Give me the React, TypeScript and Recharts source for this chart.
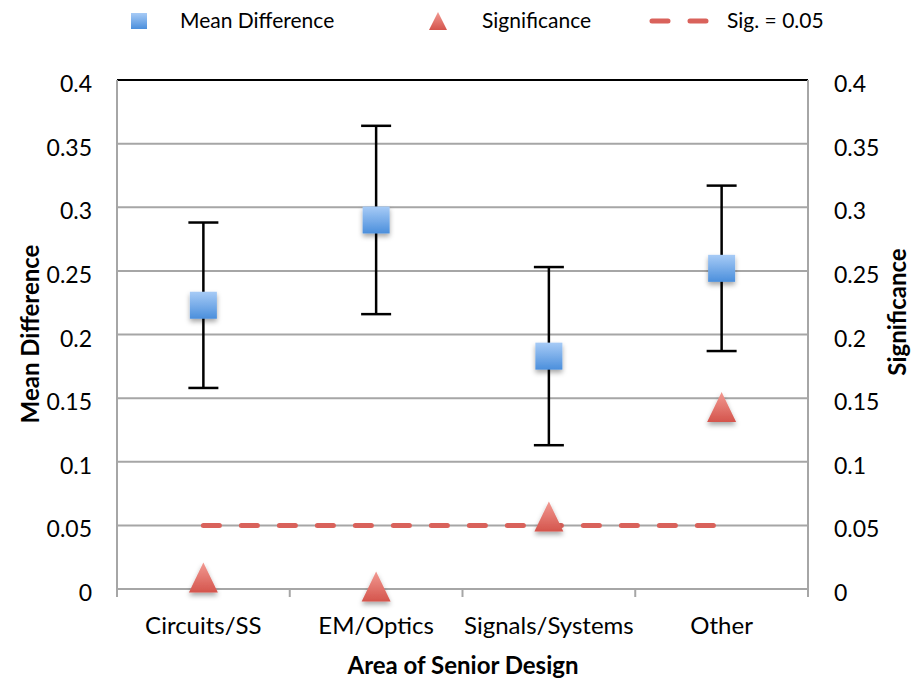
import {
  ComposedChart,
  Scatter,
  Line,
  XAxis,
  YAxis,
  CartesianGrid,
  ErrorBar,
  ReferenceLine,
} from "recharts";

const categories = ["Circuits/SS", "EM/Optics", "Signals/Systems", "Other"];
const meanDiff = [0.223, 0.29, 0.183, 0.252];
const meanErr = [0.065, 0.074, 0.07, 0.065];
const significance = [0.009, 0.002, 0.057, 0.143];
const sigLevel = [0.05, 0.05, 0.05, 0.05];
const yTicks = [0, 0.05, 0.1, 0.15, 0.2, 0.25, 0.3, 0.35, 0.4];

const data = categories.map((area, i) => ({
  area,
  mean: meanDiff[i],
  err: meanErr[i],
  sig: significance[i],
  level: sigLevel[i],
}));

const FONT = "Lato, 'Open Sans', sans-serif";
const GRID = "#a6a6a6";
const RED = "#d9625b";

const Square = (props: any) => {
  const { cx, cy } = props;
  if (cx == null || cy == null) return null;
  return (
    <rect
      x={cx - 13.5}
      y={cy - 13.5}
      width={27}
      height={27}
      fill="url(#blueGrad)"
      filter="url(#shadow)"
    />
  );
};

const Triangle = (props: any) => {
  const { cx, cy } = props;
  if (cx == null || cy == null) return null;
  return (
    <polygon
      points={`${cx},${cy - 15} ${cx + 14.5},${cy + 15} ${cx - 14.5},${cy + 15}`}
      fill="url(#redGrad)"
      filter="url(#shadow)"
    />
  );
};

const CategoryTick = (props: any) => {
  const { x, y, payload, index } = props;
  const half = payload?.offset ?? 86.4;
  return (
    <g>
      <line x1={x - half} x2={x - half} y1={y - 8} y2={y} stroke={GRID} strokeWidth={2} />
      {index === categories.length - 1 && (
        <line x1={x + half} x2={x + half} y1={y - 8} y2={y} stroke={GRID} strokeWidth={2} />
      )}
      <text x={x} y={y + 37} textAnchor="middle" fontFamily={FONT} fontSize={24} fill="#000">
        {payload.value}
      </text>
    </g>
  );
};

const ValueTick = (props: any) => {
  const { x, y, payload, anchor } = props;
  return (
    <text x={x} y={y + 12} textAnchor={anchor} fontFamily={FONT} fontSize={23} fill="#000">
      {payload.value}
    </text>
  );
};

const titleStyle: React.CSSProperties = {
  position: "absolute",
  fontFamily: FONT,
  fontWeight: 700,
  fontSize: 24,
  lineHeight: 1,
  whiteSpace: "nowrap",
  color: "#000",
};

export default function App() {
  return (
    <div style={{ position: "fixed", left: 0, top: 0, width: 912, height: 680, background: "#fff", overflow: "hidden" }}>
      <div style={{ position: "absolute", top: 7, left: 0, width: 912, height: 28, fontFamily: FONT, fontSize: 21, color: "#000" }}>
        <svg width={16} height={16} style={{ position: "absolute", left: 131, top: 6 }}>
          <defs>
            <linearGradient id="lgBlue" x1="0" y1="0" x2="0" y2="1">
              <stop offset="0%" stopColor="#a7cbf6" />
              <stop offset="100%" stopColor="#4b8fdc" />
            </linearGradient>
            <linearGradient id="lgRed" x1="0" y1="0" x2="0" y2="1">
              <stop offset="0%" stopColor="#f29a92" />
              <stop offset="100%" stopColor="#d4544c" />
            </linearGradient>
          </defs>
          <rect x={0} y={0} width={16} height={16} fill="url(#lgBlue)" />
        </svg>
        <span style={{ position: "absolute", left: 180, top: 0 }}>Mean Difference</span>
        <svg width={20} height={20} style={{ position: "absolute", left: 428, top: 4 }}>
          <polygon points="10,1 19,19 1,19" fill="url(#lgRed)" />
        </svg>
        <span style={{ position: "absolute", left: 482, top: 0 }}>Significance</span>
        <svg width={60} height={10} style={{ position: "absolute", left: 649, top: 9 }}>
          <line x1={3} x2={57} y1={5} y2={5} stroke={RED} strokeWidth={5} strokeLinecap="round" strokeDasharray="16 22" />
        </svg>
        <span style={{ position: "absolute", left: 727, top: 0 }}>Sig. = 0.05</span>
      </div>

      <div style={{ ...titleStyle, left: 30, top: 334, transform: "translate(-50%, -50%) rotate(-90deg)" }}>
        Mean Difference
      </div>
      <div style={{ ...titleStyle, left: 897, top: 312, transform: "translate(-50%, -50%) rotate(-90deg)" }}>
        Significance
      </div>
      <div style={{ ...titleStyle, left: 463, top: 665, transform: "translate(-50%, -50%)" }}>
        Area of Senior Design
      </div>

      <div style={{ position: "absolute", left: 0, top: 0 }}>
        <ComposedChart width={912} height={680} data={data} margin={{ top: 80, right: 0, bottom: 0, left: 0 }}>
          <defs>
            <linearGradient id="blueGrad" x1="0" y1="0" x2="0" y2="1">
              <stop offset="0%" stopColor="#a7cbf6" />
              <stop offset="100%" stopColor="#4b8fdc" />
            </linearGradient>
            <linearGradient id="redGrad" x1="0" y1="0" x2="0" y2="1">
              <stop offset="0%" stopColor="#f29a92" />
              <stop offset="100%" stopColor="#d4544c" />
            </linearGradient>
            <filter id="shadow" x="-50%" y="-50%" width="200%" height="200%">
              <feDropShadow dx={0} dy={3} stdDeviation={2.5} floodColor="#000" floodOpacity={0.35} />
            </filter>
          </defs>
          <CartesianGrid vertical={false} stroke={GRID} strokeWidth={2} yAxisId="left" />
          <XAxis
            dataKey="area"
            scale="band"
            height={91}
            axisLine={{ stroke: GRID, strokeWidth: 2 }}
            tickLine={false}
            tickSize={8}
            tickMargin={0}
            tick={<CategoryTick />}
            interval={0}
          />
          <YAxis
            yAxisId="left"
            width={117}
            domain={[0, 0.4]}
            ticks={yTicks}
            axisLine={{ stroke: GRID, strokeWidth: 2 }}
            tickLine={false}
            tickSize={0}
            tickMargin={25}
            tick={<ValueTick anchor="end" />}
          />
          <YAxis
            yAxisId="right"
            orientation="right"
            width={104}
            domain={[0, 0.4]}
            ticks={yTicks}
            axisLine={{ stroke: GRID, strokeWidth: 2 }}
            tickLine={false}
            tickSize={0}
            tickMargin={26}
            tick={<ValueTick anchor="start" />}
          />
          <ReferenceLine yAxisId="left" y={0.4} stroke="#000" strokeWidth={2} />
          <Scatter yAxisId="left" dataKey="mean" shape={<Square />} isAnimationActive={false}>
            <ErrorBar dataKey="err" direction="y" width={15} stroke="#000" strokeWidth={2.5} />
          </Scatter>
          <Line
            yAxisId="right"
            dataKey="level"
            stroke={RED}
            strokeWidth={5}
            strokeDasharray="16 22"
            strokeLinecap="round"
            dot={false}
            activeDot={false}
            isAnimationActive={false}
          />
          <Scatter yAxisId="right" dataKey="sig" shape={<Triangle />} isAnimationActive={false} />
        </ComposedChart>
      </div>
    </div>
  );
}
